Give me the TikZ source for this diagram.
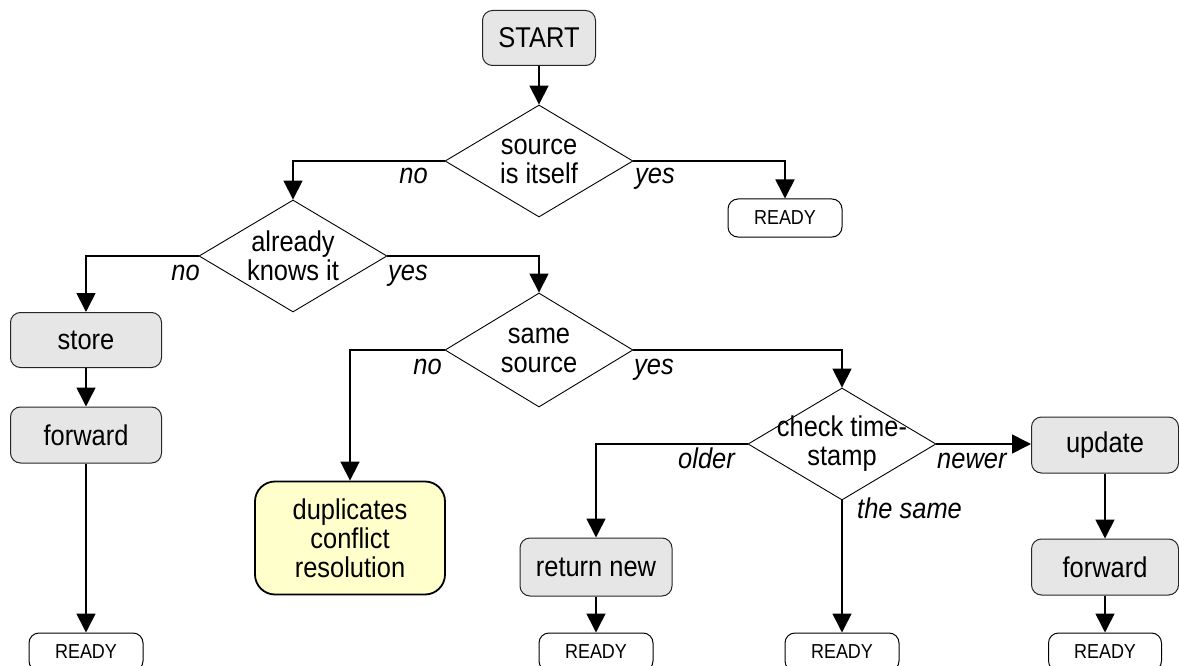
\documentclass[tikz,border=0pt]{standalone}
\usepackage{fontspec}
\setmainfont[FakeStretch=0.89]{Liberation Sans}
\usetikzlibrary{shapes.geometric,arrows.meta}
\definecolor{boxgray}{RGB}{230,230,230}
\definecolor{dupyellow}{RGB}{255,255,204}
\newcommand\bigtxt{\fontsize{28.6pt}{29pt}\selectfont}
\newcommand\readytxt{\fontsize{20.2pt}{20pt}\selectfont}
\begin{document}
\begin{tikzpicture}[x=1pt,y=-1pt,
  procbox/.style={draw=black!85, fill=boxgray, rounded corners=10pt, line width=1pt,
    inner sep=0pt, font=\bigtxt, align=center},
  readybox/.style={draw=black, fill=white, rounded corners=10pt, line width=1pt,
    inner sep=0pt, minimum width=114pt, minimum height=38pt, font=\readytxt},
  dupbox/.style={draw=black, fill=dupyellow, rounded corners=20pt, line width=1.8pt,
    inner sep=0pt, minimum width=190pt, minimum height=113pt, font=\bigtxt, align=center},
  dia/.style={draw, diamond, line width=0.9pt, inner sep=0pt, minimum width=188pt, minimum height=112pt},
  every label/.style={font=\bigtxt, align=center, inner sep=0pt},
  arr/.style={line width=1.6pt, -{Triangle[length=19pt,width=19pt]}},
  lbl/.style={font=\bigtxt\itshape, inner sep=0pt}
]
\useasboundingbox (0,0) rectangle (1179,666);

% nodes
\node[procbox, minimum width=113pt, minimum height=55pt] (start) at (539,38) {START};
\node[dia, label=center:{source\\is itself}] (d1) at (539,161) {};
\node[readybox] (r1) at (785,218) {READY};
\node[dia, label=center:{already\\knows it}] (d2) at (293,256) {};
\node[procbox, minimum width=151pt, minimum height=55pt] (store) at (86,340) {store};
\node[procbox, minimum width=151pt, minimum height=56pt] (fwd1) at (86,435) {forward};
\node[readybox] (r2) at (86,652) {READY};
\node[dia, minimum height=114pt, label=center:{same\\source}] (d3) at (539,350) {};
\node[dupbox] (dup) at (350,538) {duplicates\\conflict\\resolution};
\node[dia, label=center:{check time-\\stamp}] (d4) at (842,444) {};
\node[procbox, minimum width=152pt, minimum height=58pt] (ret) at (596,567) {return new};
\node[readybox] (r3) at (596,652) {READY};
\node[readybox] (r4) at (842,652) {READY};
\node[procbox, minimum width=147pt, minimum height=56pt] (upd) at (1105,445) {update};
\node[procbox, minimum width=147pt, minimum height=56pt] (fwd2) at (1105,567) {forward};
\node[readybox, minimum width=113pt] (r5) at (1105,652) {READY};

% connectors
\draw[arr] (start) -- (d1.north);
\draw[arr] (d1.west) -| (d2.north);
\draw[arr] (d1.east) -| (r1.north);
\draw[arr] (d2.west) -| (store.north);
\draw[arr] (d2.east) -| (d3.north);
\draw[arr] (store) -- (fwd1);
\draw[arr] (fwd1) -- (r2);
\draw[arr] (d3.west) -| (dup.north);
\draw[arr] (d3.east) -| (d4.north);
\draw[arr] (d4.west) -| (ret.north);
\draw[arr] (d4.east) -- (d4.east -| upd.west);
\draw[arr] (d4.south) -- (r4.north);
\draw[arr] (ret) -- (r3);
\draw[arr] (upd) -- (fwd2);
\draw[arr] (fwd2) -- (r5);

% branch labels
\node[lbl, anchor=base east] (l1n) at (428,184) {no};
\node[lbl, anchor=base west] (l1y) at (635,184) {yes};
\node[lbl, anchor=base east] (l2n) at (200,280) {no};
\node[lbl, anchor=base west] (l2y) at (388,280) {yes};
\node[lbl, anchor=base east] (l3n) at (442,374) {no};
\node[lbl, anchor=base west] (l3y) at (634,374) {yes};
\node[lbl, anchor=base east] (l4o) at (735,468) {older};
\node[lbl, anchor=base west] (l4n) at (937,468) {newer};
\node[lbl, anchor=base west] (l4s) at (857,518) {the same};
\end{tikzpicture}
\end{document}
